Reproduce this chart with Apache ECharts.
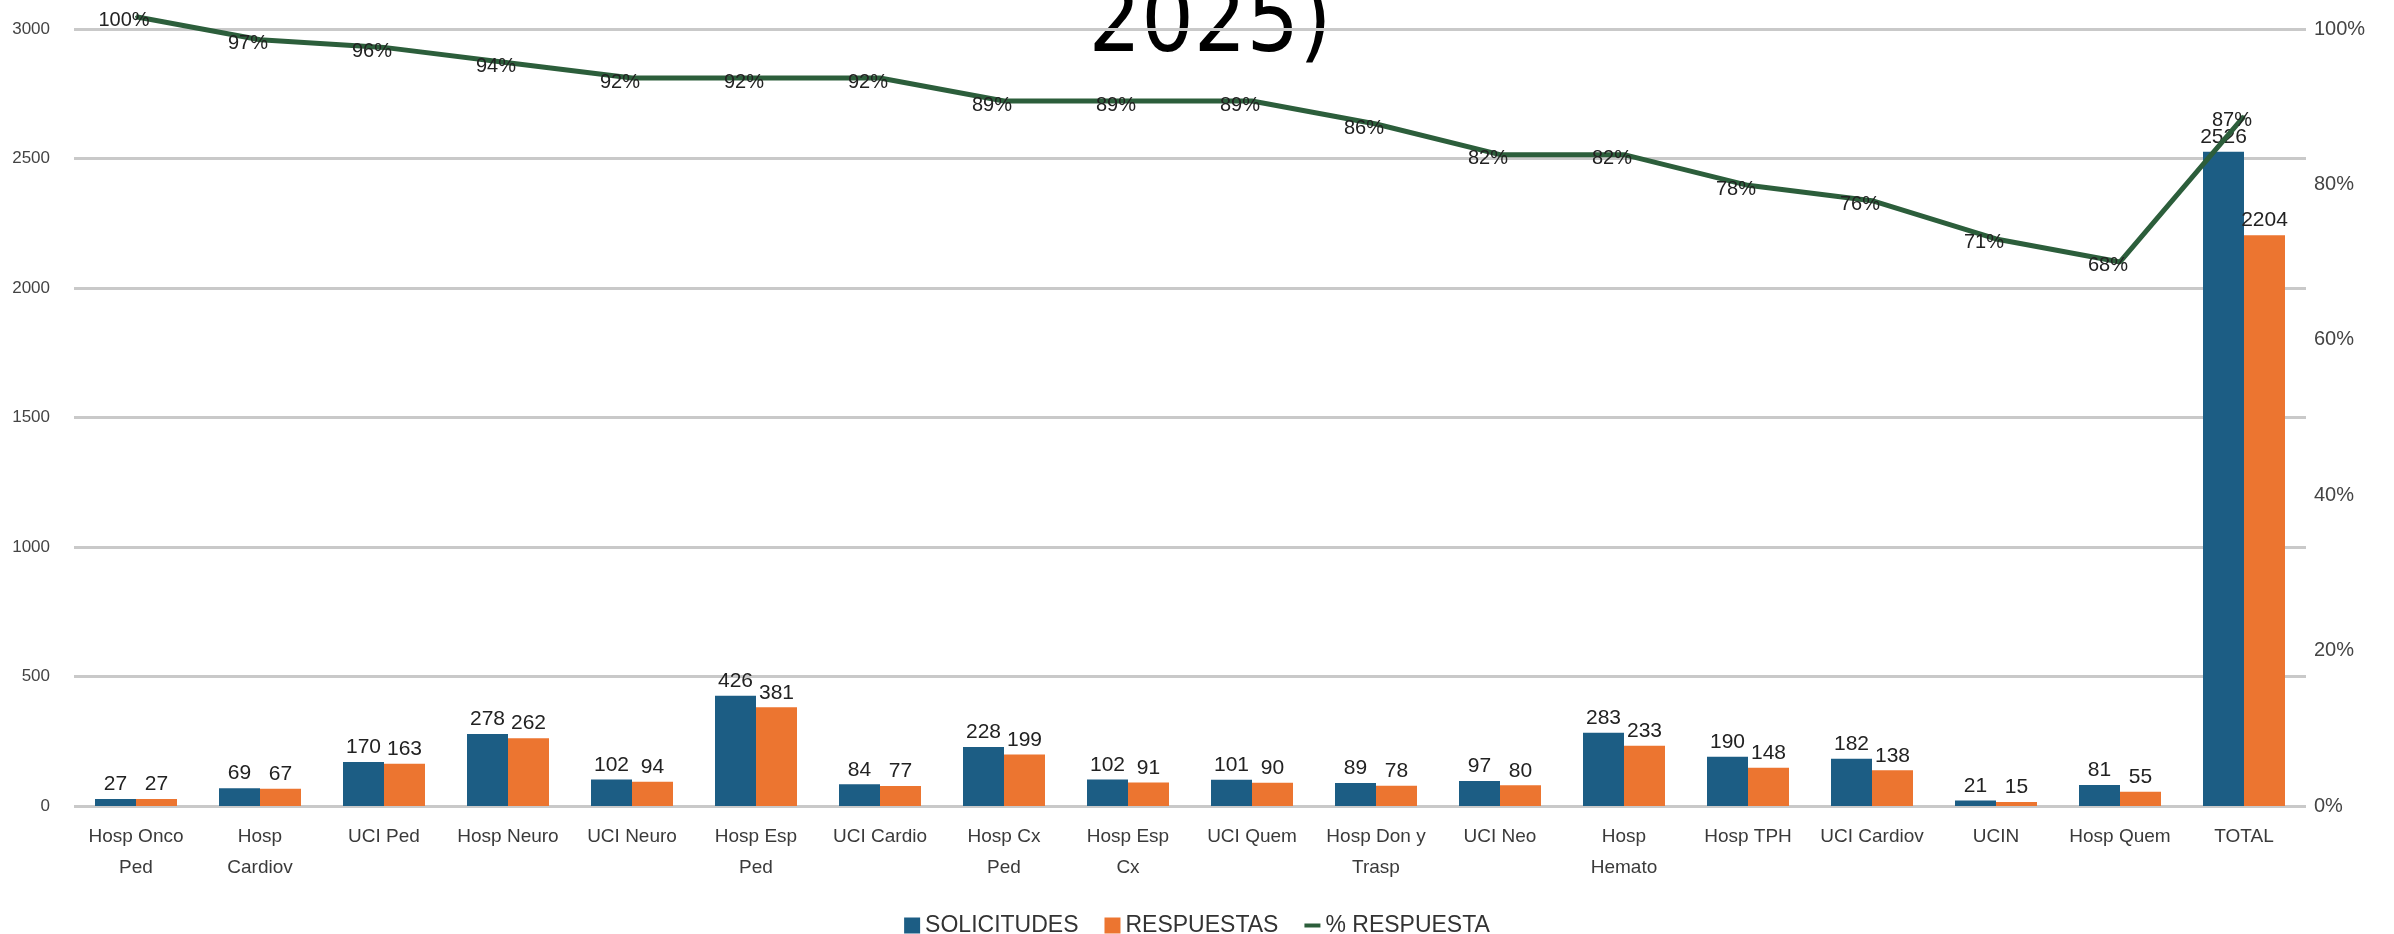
<!DOCTYPE html>
<html>
<head>
<meta charset="utf-8">
<script src="https://cdn.jsdelivr.net/npm/echarts@6/dist/echarts.min.js"></script>
<style>
html,body{margin:0;padding:0;background:#fff;}
#chart{width:2394px;height:934px;}
</style>
</head>
<body>
<div id="chart"></div>
<script>
const categories = ['Hosp Onco\nPed','Hosp\nCardiov','UCI Ped','Hosp Neuro','UCI Neuro','Hosp Esp\nPed','UCI Cardio','Hosp Cx\nPed','Hosp Esp\nCx','UCI Quem','Hosp Don y\nTrasp','UCI Neo','Hosp\nHemato','Hosp TPH','UCI Cardiov','UCIN','Hosp Quem','TOTAL'];
const solicitudes = [27,69,170,278,102,426,84,228,102,101,89,97,283,190,182,21,81,2526];
const respuestas = [27,67,163,262,94,381,77,199,91,90,78,80,233,148,138,15,55,2204];
const pctRespuesta = [1.00,0.97,0.96,0.94,0.92,0.92,0.92,0.89,0.89,0.89,0.86,0.82,0.82,0.78,0.76,0.71,0.68,0.87];
const leftTicks = {min:0, max:3000, interval:500};
const rightTicks = {min:0, max:1, interval:0.2};
const titleText = '2025)';

const FONT = '"Liberation Sans", Arial, sans-serif';
const chart = echarts.init(document.getElementById('chart'));
chart.setOption({
  animation:false,
  backgroundColor:'#ffffff',
  graphic:[{
    type:'text', x:1210, y:27,
    style:{text:titleText, fontSize:92, fontFamily:'"DejaVu Sans Condensed","DejaVu Sans",sans-serif',
      fill:'#000', textAlign:'center', textVerticalAlign:'middle', align:'center', verticalAlign:'middle'}
  }],
  legend:{
    top:909, left:'center',
    itemWidth:16, itemHeight:16, itemGap:26,
    textStyle:{fontFamily:FONT, fontSize:23, color:'#333'},
    data:[
      {name:'SOLICITUDES', icon:'rect'},
      {name:'RESPUESTAS', icon:'rect'},
      {name:'% RESPUESTA', icon:'path://M0,0L16,0L16,4L0,4Z'}
    ]
  },
  grid:{left:74, right:88, top:29, bottom:128, containLabel:false},
  xAxis:{
    type:'category', data:categories,
    axisLine:{show:false}, axisTick:{show:false},
    axisLabel:{interval:0, margin:15, fontFamily:FONT, fontSize:19, color:'#3a3a3a', lineHeight:31}
  },
  yAxis:[
    {type:'value', min:leftTicks.min, max:leftTicks.max, interval:leftTicks.interval,
     axisLine:{show:false}, axisTick:{show:false},
     axisLabel:{margin:24, fontFamily:FONT, fontSize:17, color:'#444', formatter:v=>String(v)},
     splitLine:{lineStyle:{color:'#c9c9c9', width:3}}},
    {type:'value', min:rightTicks.min, max:rightTicks.max, interval:rightTicks.interval, position:'right',
     axisLine:{show:false}, axisTick:{show:false}, splitLine:{show:false},
     axisLabel:{margin:8, fontFamily:FONT, fontSize:20, color:'#444', formatter:v=>Math.round(v*100)+'%'}},
    {type:'value', min:-0.03, max:0.984, show:false, position:'right', splitLine:{show:false}}
  ],
  series:[
    {name:'SOLICITUDES', type:'bar', data:solicitudes, barWidth:41, barGap:'0%', yAxisIndex:0,
     itemStyle:{color:'#1c5d84'},
     label:{show:true, position:'top', distance:4, fontFamily:FONT, fontSize:21, color:'#222'}},
    {name:'RESPUESTAS', type:'bar', data:respuestas, barWidth:41, barGap:'0%', yAxisIndex:0,
     itemStyle:{color:'#ec7530'},
     label:{show:true, position:'top', distance:4, fontFamily:FONT, fontSize:21, color:'#222'}},
    {name:'% RESPUESTA', type:'line', data:pctRespuesta, yAxisIndex:2, clip:false, z:5,
     symbol:'circle', symbolSize:2,
     lineStyle:{color:'#2c5e3b', width:5},
     itemStyle:{color:'#2c5e3b'},
     label:{show:true, position:'inside', offset:[-12,4], fontFamily:FONT, fontSize:20, color:'#222',
       formatter:p=>Math.round(p.value*100)+'%'}}
  ]
});
</script>
</body>
</html>
